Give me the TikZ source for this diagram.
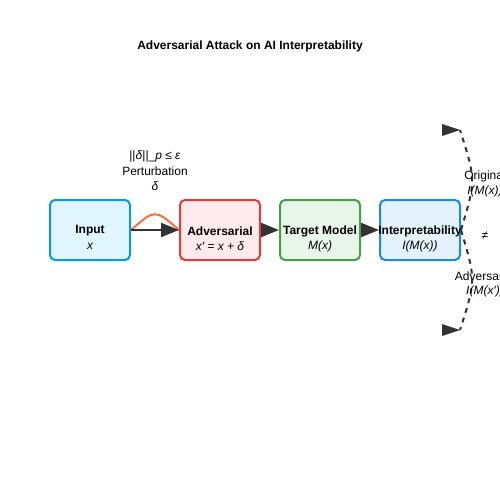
\documentclass[tikz,border=0pt]{standalone}
\usepackage{fontspec}
\setmainfont{Liberation Sans}
\usetikzlibrary{arrows.meta}
\definecolor{inS}{HTML}{039BE5}\definecolor{inF}{HTML}{E1F5FE}
\definecolor{adS}{HTML}{E53935}\definecolor{adF}{HTML}{FFEBEE}
\definecolor{tmS}{HTML}{43A047}\definecolor{tmF}{HTML}{E8F5E9}
\definecolor{ipS}{HTML}{1E88E5}\definecolor{ipF}{HTML}{E3F2FD}
\definecolor{dk}{HTML}{333333}\definecolor{orng}{HTML}{FF7043}
\tikzset{
  box/.style={draw, line width=2pt, rounded corners=5pt, minimum width=80pt, minimum height=60pt, inner sep=0pt},
  txt/.style={font=\fontsize{12}{14}\selectfont, inner sep=0pt, text=black},
  btxt/.style={txt, font=\fontsize{12}{14}\selectfont\bfseries},
  itxt/.style={txt, font=\fontsize{12}{14}\selectfont\itshape},
  flow/.style={draw=dk, line width=2pt, -{Triangle[length=18pt,width=14pt]}, shorten >=0pt},
  dashc/.style={draw=dk, line width=2pt, dash pattern=on 5pt off 5pt},
  tipshape/.style={fill=dk}
}
\begin{document}
\begin{tikzpicture}[x=1pt,y=-1pt]
\clip (0,0) rectangle (500,500);
\useasboundingbox (0,0) rectangle (500,500);
\node[btxt] (title) at (250,46) {Adversarial Attack on AI Interpretability};
% boxes
\node[box, draw=inS, fill=inF] (input) at (90,230) {};
\node[box, draw=adS, fill=adF] (adv) at (220,230) {};
\node[box, draw=tmS, fill=tmF] (target) at (320,230) {};
\node[box, draw=ipS, fill=ipF] (interp) at (420,230) {};
% box texts
\node[btxt] (inputA) at (90,231) {Input};
\node[itxt] (inputB) at (90,246) {x};
\node[btxt] (advA) at (220,231) {Adversarial};
\node[itxt] (advB) at (220,246) {x′ = x + δ};
\node[btxt] (targetA) at (320,231) {Target Model};
\node[itxt] (targetB) at (320,246) {M(x)};
\node[btxt] (interpA) at (420,231) {Interpretability};
\node[itxt] (interpB) at (420,246) {I(M(x))};
% perturbation label
\node[txt] (pertA) at (155,156) {||\textit{δ}||\_\textit{p} ≤ \textit{ε}};
\node[txt] (pertB) at (155,171) {Perturbation};
\node[itxt] (pertC) at (155,186) {δ};
% orange arc
\draw[orng, line width=2pt] (input.east) .. controls (155,209) .. (adv.west);
% arrows
\draw[flow] (input.east) -- (adv.west);
\draw[flow] (adv.east) -- (target.west);
\draw[flow] (target.east) -- (interp.west);
% dashed curves
\coordinate (top) at (460,130);
\coordinate (bot) at (460,330);
\draw[dashc] (interp.east) .. controls (476,180) .. (top);
\draw[dashc] (interp.east) .. controls (476,280) .. (bot);
\fill[tipshape] (top) -- ++(-18,-6) -- ++(0,12) -- cycle;
\fill[tipshape] (bot) -- ++(-18,-6) -- ++(0,12) -- cycle;
% right labels
\node[txt] (origA) at (485,176) {Original};
\node[itxt] (origB) at (485,191) {I(M(x))};
\node[txt] (neq) at (485,236) {≠};
\node[txt] (advrA) at (485,276) {Adversarial};
\node[itxt] (advrB) at (485,291) {I(M(x′))};
\end{tikzpicture}
\end{document}
